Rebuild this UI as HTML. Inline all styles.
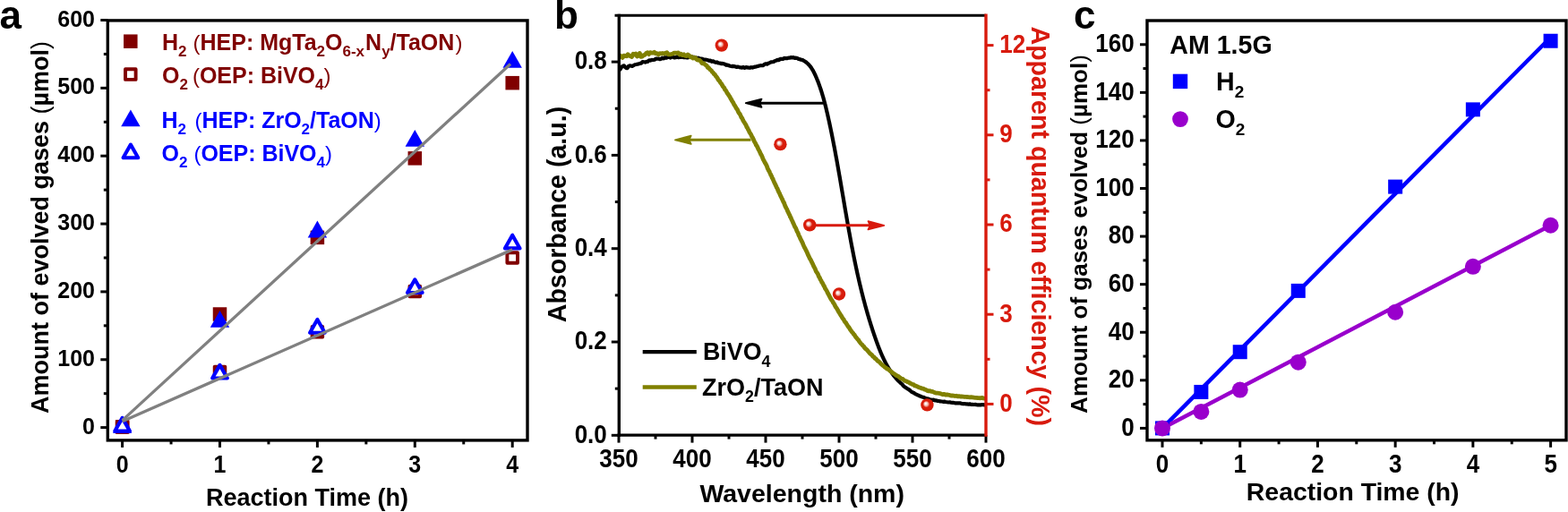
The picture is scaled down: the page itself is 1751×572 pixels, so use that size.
<!DOCTYPE html><html><head><meta charset="utf-8"><style>html,body{margin:0;padding:0;background:#fff;}svg{display:block;}text{font-family:'Liberation Sans', Arial, sans-serif;}</style></head><body>
<svg width="1751" height="572" viewBox="0 0 1751 572">
<defs><radialGradient id="ball" cx="0.5" cy="0.5" r="0.5" fx="0.37" fy="0.38"><stop offset="0" stop-color="#ffffff"/><stop offset="0.08" stop-color="#fffcfc"/><stop offset="0.3" stop-color="#f3b8b0"/><stop offset="0.52" stop-color="#da1e0c"/><stop offset="1" stop-color="#d41a08"/></radialGradient></defs>
<rect width="1751" height="572" fill="#fff"/>
<line x1="112.3" y1="477.6" x2="120.3" y2="477.6" stroke="#000" stroke-width="3" />
<text x="106" y="484.7" font-size="25" text-anchor="end" fill="#000" font-weight="bold" >0</text>
<line x1="112.3" y1="401.75" x2="120.3" y2="401.75" stroke="#000" stroke-width="3" />
<text x="106" y="408.85" font-size="25" text-anchor="end" fill="#000" font-weight="bold" >100</text>
<line x1="112.3" y1="325.9" x2="120.3" y2="325.9" stroke="#000" stroke-width="3" />
<text x="106" y="333" font-size="25" text-anchor="end" fill="#000" font-weight="bold" >200</text>
<line x1="112.3" y1="250.05" x2="120.3" y2="250.05" stroke="#000" stroke-width="3" />
<text x="106" y="257.15" font-size="25" text-anchor="end" fill="#000" font-weight="bold" >300</text>
<line x1="112.3" y1="174.2" x2="120.3" y2="174.2" stroke="#000" stroke-width="3" />
<text x="106" y="181.3" font-size="25" text-anchor="end" fill="#000" font-weight="bold" >400</text>
<line x1="112.3" y1="98.35" x2="120.3" y2="98.35" stroke="#000" stroke-width="3" />
<text x="106" y="105.45" font-size="25" text-anchor="end" fill="#000" font-weight="bold" >500</text>
<line x1="112.3" y1="22.5" x2="120.3" y2="22.5" stroke="#000" stroke-width="3" />
<text x="106" y="29.6" font-size="25" text-anchor="end" fill="#000" font-weight="bold" >600</text>
<line x1="115.8" y1="439.68" x2="120.3" y2="439.68" stroke="#000" stroke-width="3" />
<line x1="115.8" y1="363.83" x2="120.3" y2="363.83" stroke="#000" stroke-width="3" />
<line x1="115.8" y1="287.98" x2="120.3" y2="287.98" stroke="#000" stroke-width="3" />
<line x1="115.8" y1="212.13" x2="120.3" y2="212.13" stroke="#000" stroke-width="3" />
<line x1="115.8" y1="136.28" x2="120.3" y2="136.28" stroke="#000" stroke-width="3" />
<line x1="115.8" y1="60.43" x2="120.3" y2="60.43" stroke="#000" stroke-width="3" />
<line x1="136.6" y1="491.9" x2="136.6" y2="499.9" stroke="#000" stroke-width="3" />
<text transform="translate(136.6,527.9) scale(1,1.1)" x="0" y="0" font-size="25" text-anchor="middle" fill="#000" font-weight="bold">0</text>
<line x1="245.5" y1="491.9" x2="245.5" y2="499.9" stroke="#000" stroke-width="3" />
<text transform="translate(245.5,527.9) scale(1,1.1)" x="0" y="0" font-size="25" text-anchor="middle" fill="#000" font-weight="bold">1</text>
<line x1="354.4" y1="491.9" x2="354.4" y2="499.9" stroke="#000" stroke-width="3" />
<text transform="translate(354.4,527.9) scale(1,1.1)" x="0" y="0" font-size="25" text-anchor="middle" fill="#000" font-weight="bold">2</text>
<line x1="463.3" y1="491.9" x2="463.3" y2="499.9" stroke="#000" stroke-width="3" />
<text transform="translate(463.3,527.9) scale(1,1.1)" x="0" y="0" font-size="25" text-anchor="middle" fill="#000" font-weight="bold">3</text>
<line x1="572.2" y1="491.9" x2="572.2" y2="499.9" stroke="#000" stroke-width="3" />
<text transform="translate(572.2,527.9) scale(1,1.1)" x="0" y="0" font-size="25" text-anchor="middle" fill="#000" font-weight="bold">4</text>
<line x1="191.05" y1="491.9" x2="191.05" y2="496.4" stroke="#000" stroke-width="3" />
<line x1="299.95" y1="491.9" x2="299.95" y2="496.4" stroke="#000" stroke-width="3" />
<line x1="408.85" y1="491.9" x2="408.85" y2="496.4" stroke="#000" stroke-width="3" />
<line x1="517.75" y1="491.9" x2="517.75" y2="496.4" stroke="#000" stroke-width="3" />
<rect x="128.85" y="469.17" width="15.5" height="15.5" fill="#800000"/>
<rect x="237.75" y="343.26" width="15.5" height="15.5" fill="#800000"/>
<rect x="346.65" y="257.62" width="15.5" height="15.5" fill="#800000"/>
<rect x="455.55" y="169.1" width="15.5" height="15.5" fill="#800000"/>
<rect x="564.45" y="84.91" width="15.5" height="15.5" fill="#800000"/>
<rect x="130.8" y="471.12" width="11.6" height="11.6" fill="#fff" stroke="#800000" stroke-width="3.9" stroke-linejoin="round"/>
<rect x="239.7" y="409.6" width="11.6" height="11.6" fill="#fff" stroke="#800000" stroke-width="3.9" stroke-linejoin="round"/>
<rect x="348.6" y="364.93" width="11.6" height="11.6" fill="#fff" stroke="#800000" stroke-width="3.9" stroke-linejoin="round"/>
<rect x="457.5" y="319.64" width="11.6" height="11.6" fill="#fff" stroke="#800000" stroke-width="3.9" stroke-linejoin="round"/>
<rect x="566.4" y="282.18" width="11.6" height="11.6" fill="#fff" stroke="#800000" stroke-width="3.9" stroke-linejoin="round"/>
<polygon points="136.6,464.83 125.9,483.63 147.3,483.63" fill="#0000ff"/>
<polygon points="245.5,346.96 234.8,365.76 256.2,365.76" fill="#0000ff"/>
<polygon points="354.4,246.61 343.7,265.41 365.1,265.41" fill="#0000ff"/>
<polygon points="463.3,144.98 452.6,163.78 474,163.78" fill="#0000ff"/>
<polygon points="572.2,56.99 561.5,75.79 582.9,75.79" fill="#0000ff"/>
<polygon points="136.6,466.88 128.26,481.58 144.94,481.58" fill="#fff" stroke="#0000ff" stroke-width="4.1" stroke-linejoin="round"/>
<polygon points="245.5,407.87 237.16,422.57 253.84,422.57" fill="#fff" stroke="#0000ff" stroke-width="4.1" stroke-linejoin="round"/>
<polygon points="354.4,356.98 346.06,371.68 362.74,371.68" fill="#fff" stroke="#0000ff" stroke-width="4.1" stroke-linejoin="round"/>
<polygon points="463.3,312.3 454.96,327 471.64,327" fill="#fff" stroke="#0000ff" stroke-width="4.1" stroke-linejoin="round"/>
<polygon points="572.2,262.7 563.86,277.4 580.54,277.4" fill="#fff" stroke="#0000ff" stroke-width="4.1" stroke-linejoin="round"/>
<line x1="136.6" y1="469.64" x2="570.02" y2="71.42" stroke="#808080" stroke-width="3.3" />
<line x1="136.6" y1="470.77" x2="572.2" y2="278.87" stroke="#808080" stroke-width="3.3" />
<rect x="120.3" y="22.9" width="468.7" height="469" fill="none" stroke="#000" stroke-width="3.4"/>
<rect x="138.05" y="38.45" width="15.5" height="15.5" fill="#800000"/>
<rect x="140" y="77.3" width="11.6" height="11.6" fill="#fff" stroke="#800000" stroke-width="3.9" stroke-linejoin="round"/>
<polygon points="145.9,122.4 135.2,141.2 156.6,141.2" fill="#0000ff"/>
<polygon points="145.9,161.6 137.56,176.3 154.24,176.3" fill="#fff" stroke="#0000ff" stroke-width="4.1" stroke-linejoin="round"/>
<text x="181" y="55.7" font-size="25" font-weight="bold" fill="#800000"><tspan y="55.7">H</tspan><tspan y="62.7" font-size="17">2</tspan><tspan y="55.7"> </tspan><tspan y="55.7" font-size="24" font-weight="normal">(</tspan><tspan y="55.7">HEP: MgTa</tspan><tspan y="62.7" font-size="17">2</tspan><tspan y="55.7">O</tspan><tspan y="62.7" font-size="17">6-x</tspan><tspan y="55.7" dx="1">N</tspan><tspan y="62.7" font-size="17">y</tspan><tspan y="55.7">/TaON</tspan><tspan y="55.7" dx="1" font-size="24" font-weight="normal">)</tspan></text>
<text x="181" y="93" font-size="25" font-weight="bold" fill="#800000"><tspan y="93">O</tspan><tspan y="100" font-size="17">2</tspan><tspan y="93"> </tspan><tspan y="93" dx="-2" font-size="24" font-weight="normal">(</tspan><tspan y="93">OEP: BiVO</tspan><tspan y="100" font-size="17">4</tspan><tspan y="93" font-size="24" font-weight="normal">)</tspan></text>
<text x="180.5" y="142.9" font-size="25" font-weight="bold" fill="#0000ff"><tspan y="142.9">H</tspan><tspan y="149.9" font-size="17">2</tspan><tspan y="142.9"> </tspan><tspan y="142.9" dx="2.5" font-size="24" font-weight="normal">(</tspan><tspan y="142.9">HEP: ZrO</tspan><tspan y="149.9" font-size="17">2</tspan><tspan y="142.9">/TaON</tspan><tspan y="142.9" font-size="24" font-weight="normal">)</tspan></text>
<text x="180.5" y="180.2" font-size="25" font-weight="bold" fill="#0000ff"><tspan y="180.2">O</tspan><tspan y="187.2" font-size="17">2</tspan><tspan y="180.2"> </tspan><tspan y="180.2" dx="0" font-size="24" font-weight="normal">(</tspan><tspan y="180.2">OEP: BiVO</tspan><tspan y="187.2" font-size="17">4</tspan><tspan y="180.2" font-size="24" font-weight="normal">)</tspan></text>
<text x="343" y="565.4" font-size="27" text-anchor="middle" fill="#000" font-weight="bold" >Reaction Time (h)</text>
<text transform="translate(54.3,254) rotate(-90)" x="0" y="0" font-size="27" font-weight="bold" text-anchor="middle" fill="#000">Amount of evolved gases <tspan font-weight="normal">(</tspan>µmol<tspan font-weight="normal">)</tspan></text>
<text x="-0.5" y="31.8" font-size="44" text-anchor="start" fill="#000" font-weight="bold" >a</text>
<line x1="682.8" y1="486.3" x2="691.3" y2="486.3" stroke="#000" stroke-width="3" />
<text transform="translate(677.8,494.55) scale(1,1.1)" x="0" y="0" font-size="26" text-anchor="end" fill="#000" font-weight="bold">0.0</text>
<line x1="682.8" y1="382" x2="691.3" y2="382" stroke="#000" stroke-width="3" />
<text transform="translate(677.8,390.25) scale(1,1.1)" x="0" y="0" font-size="26" text-anchor="end" fill="#000" font-weight="bold">0.2</text>
<line x1="682.8" y1="277.7" x2="691.3" y2="277.7" stroke="#000" stroke-width="3" />
<text transform="translate(677.8,285.95) scale(1,1.1)" x="0" y="0" font-size="26" text-anchor="end" fill="#000" font-weight="bold">0.4</text>
<line x1="682.8" y1="173.4" x2="691.3" y2="173.4" stroke="#000" stroke-width="3" />
<text transform="translate(677.8,181.65) scale(1,1.1)" x="0" y="0" font-size="26" text-anchor="end" fill="#000" font-weight="bold">0.6</text>
<line x1="682.8" y1="69.1" x2="691.3" y2="69.1" stroke="#000" stroke-width="3" />
<text transform="translate(677.8,77.35) scale(1,1.1)" x="0" y="0" font-size="26" text-anchor="end" fill="#000" font-weight="bold">0.8</text>
<line x1="686.8" y1="434.15" x2="691.3" y2="434.15" stroke="#000" stroke-width="3" />
<line x1="686.8" y1="329.85" x2="691.3" y2="329.85" stroke="#000" stroke-width="3" />
<line x1="686.8" y1="225.55" x2="691.3" y2="225.55" stroke="#000" stroke-width="3" />
<line x1="686.8" y1="121.25" x2="691.3" y2="121.25" stroke="#000" stroke-width="3" />
<line x1="691" y1="486.1" x2="691" y2="494.6" stroke="#000" stroke-width="3" />
<text transform="translate(691,521.9) scale(1,1.1)" x="0" y="0" font-size="26" text-anchor="middle" fill="#000" font-weight="bold">350</text>
<line x1="773" y1="486.1" x2="773" y2="494.6" stroke="#000" stroke-width="3" />
<text transform="translate(773,521.9) scale(1,1.1)" x="0" y="0" font-size="26" text-anchor="middle" fill="#000" font-weight="bold">400</text>
<line x1="855" y1="486.1" x2="855" y2="494.6" stroke="#000" stroke-width="3" />
<text transform="translate(855,521.9) scale(1,1.1)" x="0" y="0" font-size="26" text-anchor="middle" fill="#000" font-weight="bold">450</text>
<line x1="937" y1="486.1" x2="937" y2="494.6" stroke="#000" stroke-width="3" />
<text transform="translate(937,521.9) scale(1,1.1)" x="0" y="0" font-size="26" text-anchor="middle" fill="#000" font-weight="bold">500</text>
<line x1="1019" y1="486.1" x2="1019" y2="494.6" stroke="#000" stroke-width="3" />
<text transform="translate(1019,521.9) scale(1,1.1)" x="0" y="0" font-size="26" text-anchor="middle" fill="#000" font-weight="bold">550</text>
<line x1="1101" y1="486.1" x2="1101" y2="494.6" stroke="#000" stroke-width="3" />
<text transform="translate(1101,521.9) scale(1,1.1)" x="0" y="0" font-size="26" text-anchor="middle" fill="#000" font-weight="bold">600</text>
<line x1="732" y1="486.1" x2="732" y2="490.6" stroke="#000" stroke-width="3" />
<line x1="814" y1="486.1" x2="814" y2="490.6" stroke="#000" stroke-width="3" />
<line x1="896" y1="486.1" x2="896" y2="490.6" stroke="#000" stroke-width="3" />
<line x1="978" y1="486.1" x2="978" y2="490.6" stroke="#000" stroke-width="3" />
<line x1="1060" y1="486.1" x2="1060" y2="490.6" stroke="#000" stroke-width="3" />
<line x1="1101" y1="451.4" x2="1109.5" y2="451.4" stroke="#d81a0d" stroke-width="3" />
<text transform="translate(1116.3,459.85) scale(1,1.1)" x="0" y="0" font-size="26" text-anchor="start" fill="#d81a0d" font-weight="bold">0</text>
<line x1="1101" y1="351.2" x2="1109.5" y2="351.2" stroke="#d81a0d" stroke-width="3" />
<text transform="translate(1116.3,359.65) scale(1,1.1)" x="0" y="0" font-size="26" text-anchor="start" fill="#d81a0d" font-weight="bold">3</text>
<line x1="1101" y1="251" x2="1109.5" y2="251" stroke="#d81a0d" stroke-width="3" />
<text transform="translate(1116.3,259.45) scale(1,1.1)" x="0" y="0" font-size="26" text-anchor="start" fill="#d81a0d" font-weight="bold">6</text>
<line x1="1101" y1="150.8" x2="1109.5" y2="150.8" stroke="#d81a0d" stroke-width="3" />
<text transform="translate(1116.3,159.25) scale(1,1.1)" x="0" y="0" font-size="26" text-anchor="start" fill="#d81a0d" font-weight="bold">9</text>
<line x1="1101" y1="50.6" x2="1109.5" y2="50.6" stroke="#d81a0d" stroke-width="3" />
<text transform="translate(1116.3,59.05) scale(1,1.1)" x="0" y="0" font-size="26" text-anchor="start" fill="#d81a0d" font-weight="bold">12</text>
<line x1="1101" y1="401.3" x2="1105.5" y2="401.3" stroke="#d81a0d" stroke-width="3" />
<line x1="1101" y1="301.1" x2="1105.5" y2="301.1" stroke="#d81a0d" stroke-width="3" />
<line x1="1101" y1="200.9" x2="1105.5" y2="200.9" stroke="#d81a0d" stroke-width="3" />
<line x1="1101" y1="100.7" x2="1105.5" y2="100.7" stroke="#d81a0d" stroke-width="3" />
<clipPath id="cb"><rect x="691.3" y="17.3" width="409.70000000000005" height="468.8"/></clipPath>
<g clip-path="url(#cb)" fill="none" stroke-linejoin="round" stroke-linecap="round">
<path d="M692.5,77.5 C692.83,77 693.78,75.2 694.5,74.5 C695.22,73.8 696.13,73.13 696.8,73.3 C697.47,73.47 697.92,75.02 698.5,75.5 C699.08,75.98 699.72,76.45 700.3,76.2 C700.88,75.95 701.42,74.47 702,74 C702.58,73.53 703.13,73.4 703.8,73.4 C704.47,73.4 705.63,73.9 706,74 L708.94,72.27 L710.38,72.01 L711.82,71.67 L713.26,71.47 L714.71,70.79 L716.16,70.65 L717.62,69.02 L719.07,69.26 L720.53,69.56 L722,68.79 L723.46,68.8 L724.93,67.36 L726.4,67.53 L727.87,66.9 L729.35,67.01 L730.83,66.76 L732.3,65.69 L733.78,65.71 L735.27,65.53 L736.75,66.18 L738.24,65.73 L739.72,64.66 L741.21,65.35 L742.7,64.23 L744.19,64.72 L745.69,63.87 L747.18,63.54 L748.67,64.62 L750.17,63.57 L751.66,63.47 L753.16,64.45 L754.65,64.22 L756.15,63.35 L757.64,64.24 L759.14,63.63 L760.64,63.81 L762.13,63.16 L763.63,64.21 L765.13,63.91 L766.62,64.36 L768.12,64.34 L769.61,63.6 L771.1,63.81 L772.59,63.68 L774.09,63.81 L775.58,63.88 L777.06,64.41 L778.55,65.05 L780.04,64.7 L781.52,65.57 L783.01,65.54 L784.49,65.81 L785.97,66.57 L787.45,66.59 L788.93,66.78 L790.41,67.27 L791.89,67.82 L793.36,67.6 L794.84,68.8 L796.31,68.31 L797.79,69.34 L799.26,69.8 L800.73,69.44 L802.2,70.51 L803.67,70.5 L805.14,71.07 L806.61,70.92 L808.08,71.31 L809.55,71.79 L811.02,72.83 L812.49,72.48 L813.95,73.3 L815.42,73.76 L816.89,74.07 L818.36,73.81 L819.82,74.07 L821.29,74.46 L822.76,74.91 L824.22,74.5 L825.69,75.25 L827.16,75.45 L828.62,75.63 L830.09,74.98 L831.56,75.86 L833.02,75.13 L834.49,75.36 L835.96,75.57 L837.43,75.78 L838.9,75.16 L840.37,75.55 L841.84,75.03 L843.31,74.61 L844.78,74.35 L846.25,73.93 L847.72,73.5 L849.2,73.18 L850.67,73.26 L852.14,73.1 L853.62,71.89 L855.09,71.3 L856.57,71.65 L858.04,70.74 L859.52,70.11 L860.99,69.44 L862.47,69.24 L863.95,68.94 L865.42,68.11 L866.9,67.59 L868.37,66.79 L869.85,67.12 L871.32,65.91 L872.8,65.93 L874.27,65.89 L875.74,64.94 L877.22,65.21 L878.69,65.18 L880.16,64.72 L881.63,64.74 L883.1,64.07 L884.57,64.37 L886.03,64.19 L887.49,64.95 L888.92,64.66 L890.35,65.07 L891.74,65.9 L893.12,66.17 L894.46,66.76 L895.77,66.88 L897.04,67.5 L898.26,68.2 L899.44,68.97 L900.57,69.81 L901.65,70.73 L902.67,71.72 L903.65,72.77 L904.57,73.89 L905.46,75.06 L906.3,76.28 L907.1,77.55 L907.87,78.86 L908.6,80.2 L909.31,81.57 L909.98,82.97 L910.63,84.38 L911.26,85.81 L911.87,87.24 L912.46,88.69 L913.03,90.13 L913.6,91.57 L914.14,93.01 L914.67,94.45 L915.19,95.9 L915.7,97.34 L916.19,98.79 L916.67,100.23 L917.14,101.68 L917.6,103.12 L918.05,104.57 L918.49,106.02 L918.91,107.47 L919.33,108.92 L919.74,110.37 L920.14,111.82 L920.53,113.27 L920.91,114.72 L921.29,116.17 L921.66,117.62 L922.02,119.08 L922.38,120.53 L922.73,121.98 L923.08,123.44 L923.42,124.9 L923.76,126.35 L924.09,127.81 L924.42,129.27 L924.75,130.73 L925.08,132.19 L925.4,133.65 L925.72,135.11 L926.04,136.57 L926.35,138.03 L926.67,139.5 L926.98,140.96 L927.29,142.43 L927.59,143.89 L927.9,145.36 L928.2,146.82 L928.5,148.29 L928.8,149.76 L929.09,151.23 L929.39,152.7 L929.68,154.17 L929.97,155.64 L930.26,157.11 L930.55,158.58 L930.84,160.05 L931.12,161.52 L931.4,162.99 L931.68,164.47 L931.96,165.94 L932.24,167.41 L932.52,168.89 L932.79,170.36 L933.06,171.84 L933.34,173.31 L933.61,174.79 L933.88,176.27 L934.15,177.74 L934.41,179.22 L934.68,180.7 L934.95,182.18 L935.21,183.66 L935.47,185.14 L935.74,186.61 L936,188.09 L936.26,189.57 L936.52,191.05 L936.78,192.53 L937.03,194.01 L937.29,195.49 L937.55,196.98 L937.8,198.46 L938.06,199.94 L938.31,201.42 L938.57,202.9 L938.82,204.38 L939.08,205.87 L939.33,207.35 L939.58,208.83 L939.84,210.31 L940.09,211.8 L940.34,213.28 L940.59,214.76 L940.85,216.25 L941.1,217.73 L941.35,219.21 L941.6,220.69 L941.85,222.18 L942.11,223.66 L942.36,225.14 L942.61,226.63 L942.86,228.11 L943.12,229.59 L943.37,231.08 L943.62,232.56 L943.88,234.04 L944.13,235.53 L944.39,237.01 L944.64,238.49 L944.9,239.98 L945.15,241.46 L945.41,242.94 L945.67,244.43 L945.93,245.91 L946.19,247.39 L946.45,248.87 L946.71,250.35 L946.97,251.84 L947.23,253.32 L947.5,254.8 L947.76,256.28 L948.03,257.76 L948.29,259.24 L948.56,260.72 L948.83,262.2 L949.1,263.68 L949.37,265.16 L949.64,266.64 L949.92,268.12 L950.19,269.6 L950.47,271.08 L950.75,272.56 L951.03,274.03 L951.31,275.51 L951.59,276.99 L951.88,278.47 L952.17,279.94 L952.45,281.42 L952.74,282.89 L953.04,284.37 L953.33,285.84 L953.63,287.32 L953.92,288.79 L954.22,290.26 L954.52,291.74 L954.83,293.21 L955.13,294.68 L955.44,296.15 L955.75,297.62 L956.06,299.09 L956.38,300.56 L956.69,302.03 L957.01,303.5 L957.33,304.97 L957.66,306.43 L957.98,307.9 L958.31,309.36 L958.64,310.83 L958.98,312.29 L959.31,313.76 L959.65,315.22 L959.99,316.68 L960.34,318.15 L960.69,319.61 L961.04,321.07 L961.39,322.53 L961.75,323.99 L962.11,325.44 L962.47,326.9 L962.83,328.36 L963.2,329.82 L963.57,331.27 L963.95,332.72 L964.32,334.18 L964.71,335.63 L965.09,337.08 L965.48,338.53 L965.87,339.98 L966.26,341.43 L966.66,342.88 L967.06,344.33 L967.47,345.78 L967.88,347.22 L968.29,348.67 L968.7,350.11 L969.12,351.55 L969.55,352.99 L969.97,354.44 L970.4,355.88 L970.84,357.31 L971.28,358.75 L971.72,360.19 L972.17,361.62 L972.62,363.06 L973.07,364.49 L973.53,365.93 L974,367.36 L974.46,368.79 L974.93,370.22 L975.41,371.65 L975.89,373.07 L976.38,374.5 L976.86,375.92 L977.36,377.35 L977.86,378.77 L978.36,380.19 L978.87,381.61 L979.38,383.03 L979.9,384.45 L980.42,385.86 L980.96,387.27 L981.5,388.67 L982.05,390.08 L982.6,391.47 L983.17,392.87 L983.75,394.25 L984.34,395.63 L984.94,397.01 L985.56,398.38 L986.18,399.74 L986.82,401.09 L987.48,402.43 L988.15,403.77 L988.83,405.09 L989.54,406.41 L990.25,407.71 L990.99,409.01 L991.74,410.29 L992.52,411.56 L993.31,412.82 L994.12,414.07 L994.95,415.3 L995.81,416.52 L996.68,417.73 L997.58,418.92 L998.5,420.1 L999.45,421.26 L1000.42,422.37 L1001.41,423.52 L1002.43,424.8 L1003.47,425.72 L1004.54,426.67 L1005.62,427.8 L1006.73,428.66 L1007.86,429.83 L1009.01,431.26 L1010.18,432.21 L1011.37,432.93 L1012.58,433.76 L1013.8,434.55 L1015.05,435.26 L1016.31,436.24 L1017.58,437.42 L1018.87,438.28 L1020.18,438.7 L1021.5,439.74 L1022.84,440.45 L1024.18,441.08 L1025.54,441.71 L1026.92,442.4 L1028.3,442.72 L1029.69,443.52 L1031.1,443.75 L1032.51,444.39 L1033.93,445.05 L1035.37,445.43 L1036.8,445.55 L1038.25,446.38 L1039.7,446.52 L1041.16,446.79 L1042.63,446.69 L1044.1,447.34 L1045.58,447.38 L1047.06,447.92 L1048.55,447.99 L1050.04,448.44 L1051.53,448.52 L1053.02,448.8 L1054.52,448.66 L1056.02,449.03 L1057.52,449.25 L1059.02,449.47 L1060.52,449.28 L1062.03,449.77 L1063.53,449.94 L1065.03,449.96 L1066.53,450.32 L1068.02,450.45 L1069.52,450.3 L1071.02,450.46 L1072.51,450.35 L1074.01,450.97 L1075.51,451.19 L1077,451.01 L1078.5,451.29 L1079.99,451.45 L1081.49,451.59 L1082.98,451.32 L1084.48,451.87 L1085.98,451.84 L1087.47,452 L1088.97,451.93 L1090.47,452.16 L1091.97,452.35 L1093.47,452.32 L1094.97,452.44 L1096.48,452 L1097.98,452.14 L1099.49,452.36 L1100.99,452.52" stroke="#000" stroke-width="4.2"/>
<path d="M692.16,62.03 L693.68,62.63 L695.2,64.5 L696.7,62.18 L698.2,62.38 L699.69,62.75 L701.17,60.76 L702.64,62.29 L704.11,62.78 L705.58,63.46 L707.04,60.13 L708.5,61 L709.95,59.95 L711.41,63.06 L712.86,62.41 L714.32,59.45 L715.77,63.37 L717.23,63.13 L718.7,61.68 L720.16,61.37 L721.63,59.38 L723.11,58.69 L724.59,60.6 L726.08,58.65 L727.58,59.05 L729.09,59.14 L730.61,58.26 L732.14,59.76 L733.68,59.57 L735.23,60.9 L736.8,59.68 L738.37,60.02 L739.96,59.49 L741.55,59.98 L743.15,59.29 L744.75,58.72 L746.35,60.96 L747.96,60.95 L749.56,60.51 L751.16,60.17 L752.76,59.14 L754.35,59.03 L755.93,59.35 L757.51,58.95 L759.07,60.98 L760.62,60.26 L762.15,61.63 L763.67,60.78 L765.18,62.46 L766.66,62.53 L768.12,61.01 L769.56,61.92 L770.97,63.89 L772.36,63.46 L773.72,65.04 L775.06,64.44 L776.37,64.44 L777.66,66.15 L778.93,67.11 L780.17,66.91 L781.39,67.36 L782.59,68.58 L783.76,70.43 L784.92,70.93 L786.06,70.8 L787.17,71.91 L788.27,72.64 L789.35,73.56 L790.41,75.57 L791.46,75.73 L792.48,77.27 L793.5,78.17 L794.49,78.93 L795.47,80.67 L796.44,81.09 L797.39,82.8 L798.33,83.38 L799.26,84.87 L800.18,85.9 L801.08,87.14 L801.97,88.9 L802.86,89.99 L803.73,90.82 L804.59,92.53 L805.45,93.24 L806.29,94.65 L807.13,96.28 L807.96,97.39 L808.79,98.24 L809.61,100.23 L810.42,100.9 L811.23,102.23 L812.04,103.94 L812.84,104.88 L813.64,106.16 L814.43,107.28 L815.22,108.59 L816.01,110.29 L816.8,111.32 L817.58,112.91 L818.36,114.03 L819.13,115.41 L819.9,117.12 L820.67,118.05 L821.43,119.43 L822.19,120.98 L822.95,121.74 L823.71,123.04 L824.46,124.95 L825.21,126.2 L825.96,127.06 L826.7,128.33 L827.44,130.09 L828.18,131.57 L828.91,132.3 L829.64,134.23 L830.37,135.49 L831.1,136.6 L831.82,137.78 L832.55,138.85 L833.26,140.12 L833.98,142.19 L834.69,142.94 L835.41,144.65 L836.11,145.62 L836.82,147.41 L837.52,148.56 L838.23,149.65 L838.93,150.89 L839.62,152.66 L840.32,153.48 L841.01,154.94 L841.7,156.55 L842.39,158.12 L843.07,159.27 L843.76,160.34 L844.44,162.19 L845.12,162.96 L845.8,164.16 L846.48,165.7 L847.15,167.19 L847.82,168.23 L848.49,169.67 L849.16,171.17 L849.83,172.68 L850.5,173.67 L851.16,175.21 L851.82,176.98 L852.48,178.4 L853.14,179.49 L853.8,180.87 L854.46,182.14 L855.11,183.13 L855.77,184.4 L856.42,185.74 L857.07,187.81 L857.72,189 L858.37,190.56 L859.02,191.16 L859.66,193.01 L860.31,194.25 L860.95,195.8 L861.59,196.83 L862.24,198.73 L862.88,199.35 L863.52,201.09 L864.16,202.6 L864.8,204.09 L865.43,205.32 L866.07,206.65 L866.71,208.08 L867.34,209.54 L867.98,210.45 L868.61,212.08 L869.24,213.62 L869.88,214.96 L870.51,215.96 L871.14,217.62 L871.77,219.04 L872.4,220.17 L873.03,221.58 L873.66,222.75 L874.29,224.27 L874.92,225.66 L875.55,226.6 L876.18,228.41 L876.81,230.06 L877.44,231.33 L878.07,232.58 L878.7,233.67 L879.33,235.31 L879.96,236.56 L880.59,237.81 L881.22,239.49 L881.85,240.26 L882.47,242.16 L883.1,242.95 L883.73,244.77 L884.37,246.04 L885,247.21 L885.63,248.95 L886.26,250.15 L886.89,251.61 L887.52,253.22 L888.16,254.06 L888.79,255.23 L889.42,256.83 L890.06,258.49 L890.69,259.48 L891.33,260.82 L891.97,262.77 L892.6,263.94 L893.24,265.13 L893.88,266.86 L894.52,267.77 L895.16,269.41 L895.8,270.4 L896.45,271.95 L897.09,273.61 L897.74,275.06 L898.38,276.4 L899.03,277.37 L899.68,278.89 L900.33,280.04 L900.98,281.26 L901.63,282.91 L902.29,284.54 L902.94,285.91 L903.6,287.16 L904.26,288.71 L904.92,289.53 L905.58,290.8 L906.25,292.38 L906.91,293.6 L907.58,294.9 L908.25,296.42 L908.92,297.94 L909.6,299.19 L910.27,300.4 L910.95,302.17 L911.63,303.63 L912.31,304.55 L913,305.6 L913.69,306.91 L914.37,308.92 L915.07,309.6 L915.76,311.47 L916.46,312.7 L917.16,313.83 L917.86,315.55 L918.57,316.27 L919.27,317.7 L919.98,319.28 L920.7,320.27 L921.42,322.24 L922.13,323.09 L922.86,324.34 L923.58,325.59 L924.31,327.38 L925.04,328.55 L925.78,330.01 L926.52,331.35 L927.26,332.78 L928.01,334.21 L928.75,335.3 L929.51,336.22 L930.26,337.74 L931.02,338.8 L931.79,339.97 L932.55,341.63 L933.32,343.12 L934.1,343.99 L934.88,345.35 L935.66,346.69 L936.45,348.26 L937.24,349.4 L938.03,350.75 L938.83,352.14 L939.64,353.12 L940.44,354.71 L941.26,356.06 L942.07,356.67 L942.9,358.6 L943.73,359.69 L944.56,360.47 L945.4,361.97 L946.24,363.35 L947.09,364.82 L947.95,365.62 L948.81,367 L949.67,368.48 L950.55,369.63 L951.43,370.96 L952.31,371.78 L953.2,373.14 L954.1,373.98 L955.01,375.59 L955.92,376.85 L956.84,377.89 L957.76,379.13 L958.7,379.89 L959.64,381.61 L960.59,382.83 L961.54,383.98 L962.5,384.77 L963.47,386.11 L964.45,386.86 L965.44,388.46 L966.43,389.53 L967.43,390.24 L968.44,391.13 L969.46,392.51 L970.49,393.69 L971.53,394.94 L972.57,395.79 L973.63,396.49 L974.69,398.17 L975.76,398.62 L976.84,400.25 L977.93,400.78 L979.03,401.93 L980.14,403.31 L981.26,403.8 L982.39,404.8 L983.53,406.09 L984.68,407.23 L985.83,408.29 L987,409.13 L988.17,410.29 L989.36,410.86 L990.55,412.16 L991.75,412.39 L992.96,413.4 L994.18,414.54 L995.41,415.24 L996.64,416.47 L997.88,417.26 L999.13,418.02 L1000.39,419.12 L1001.66,419.72 L1002.93,420.34 L1004.21,421.2 L1005.5,422.36 L1006.8,423.19 L1008.1,423.4 L1009.41,424.67 L1010.73,425.5 L1012.06,425.88 L1013.39,426.63 L1014.73,427.03 L1016.07,427.99 L1017.42,428.64 L1018.78,429.38 L1020.14,429.56 L1021.51,430.94 L1022.89,431.2 L1024.27,431.7 L1025.66,432.61 L1027.05,432.99 L1028.45,433.49 L1029.86,434.19 L1031.27,434.21 L1032.68,435.09 L1034.1,435.49 L1035.53,436.4 L1036.96,436.83 L1038.39,436.75 L1039.83,437.33 L1041.28,437.46 L1042.72,438.1 L1044.18,438.78 L1045.64,439.2 L1047.1,439.21 L1048.56,439.4 L1050.03,439.61 L1051.5,440.25 L1052.98,440.77 L1054.46,440.4 L1055.94,441.18 L1057.43,440.81 L1058.92,441.18 L1060.41,441.42 L1061.9,441.99 L1063.39,441.9 L1064.89,442.11 L1066.39,442.49 L1067.89,442.25 L1069.39,442.91 L1070.9,442.57 L1072.4,443.02 L1073.91,442.94 L1075.41,443.03 L1076.92,443.41 L1078.43,443.45 L1079.94,443.51 L1081.44,443.65 L1082.95,443.84 L1084.46,443.64 L1085.97,443.77 L1087.48,444.2 L1088.98,444.29 L1090.49,444.29 L1092,444.63 L1093.5,444.53 L1095,444.8 L1096.5,444.39 L1098,444.88 L1099.5,445.02 L1101,445.18" stroke="#808000" stroke-width="4.8"/>
</g>
<line x1="919.5" y1="115.2" x2="848.3" y2="115.2" stroke="#000" stroke-width="3" />
<polygon points="832.8,115.2 850.5,110.6 848.3,115.2 850.5,119.8" fill="#000" stroke="#000" stroke-width="1.8" stroke-linejoin="round"/>
<line x1="838.5" y1="156.3" x2="769.5" y2="156.3" stroke="#808000" stroke-width="3" />
<polygon points="754,156.3 771.7,151.7 769.5,156.3 771.7,160.9" fill="#808000" stroke="#808000" stroke-width="1.8" stroke-linejoin="round"/>
<line x1="904.3" y1="251.8" x2="971.7" y2="251.8" stroke="#d81a0d" stroke-width="3" />
<polygon points="987.2,251.8 969.5,247.2 971.7,251.8 969.5,256.4" fill="#d81a0d" stroke="#d81a0d" stroke-width="1.8" stroke-linejoin="round"/>
<circle cx="805.8" cy="50.6" r="7.2" fill="url(#ball)"/>
<circle cx="871.4" cy="161.15" r="7.2" fill="url(#ball)"/>
<circle cx="904.2" cy="251.33" r="7.2" fill="url(#ball)"/>
<circle cx="937" cy="328.49" r="7.2" fill="url(#ball)"/>
<circle cx="1035.4" cy="452.4" r="7.2" fill="url(#ball)"/>
<line x1="686.5" y1="17.3" x2="1101" y2="17.3" stroke="#000" stroke-width="3.1" />
<line x1="691.3" y1="15.8" x2="691.3" y2="487.8" stroke="#000" stroke-width="3.4" />
<line x1="689.6" y1="486.1" x2="1101" y2="486.1" stroke="#000" stroke-width="3.4" />
<line x1="1101" y1="17.3" x2="1101" y2="486.1" stroke="#d81a0d" stroke-width="3.4" stroke-linecap="square"/>
<line x1="717.7" y1="393.1" x2="777.8" y2="393.1" stroke="#000" stroke-width="4.4" />
<line x1="717.7" y1="432.5" x2="777.8" y2="432.5" stroke="#808000" stroke-width="4.4" />
<text x="785" y="402.4" font-size="26.8" font-weight="bold" fill="#000">BiVO<tspan font-size="17.8" dy="7.3">4</tspan></text>
<text x="784" y="442" font-size="27" font-weight="bold" fill="#000">ZrO<tspan font-size="17.8" dy="7.3">2</tspan><tspan dy="-7.3">/TaON</tspan></text>
<text x="895.7" y="561.4" font-size="28.5" text-anchor="middle" fill="#000" font-weight="bold" >Wavelength (nm)</text>
<text transform="translate(632.3,239.5) rotate(-90)" x="0" y="0" font-size="28.6" font-weight="bold" text-anchor="middle" fill="#000">Absorbance (a.u.)</text>
<text transform="translate(1152.4,252.7) rotate(90)" x="0" y="0" font-size="28.6" font-weight="bold" text-anchor="middle" fill="#d81a0d">Apparent quantum efficiency (%)</text>
<text x="619" y="31.5" font-size="44" text-anchor="start" fill="#000" font-weight="bold" >b</text>
<line x1="1273" y1="478.4" x2="1281" y2="478.4" stroke="#000" stroke-width="3" />
<text transform="translate(1266.6,486.7) scale(1,1.1)" x="0" y="0" font-size="26" text-anchor="end" fill="#000" font-weight="bold">0</text>
<line x1="1273" y1="424.82" x2="1281" y2="424.82" stroke="#000" stroke-width="3" />
<text transform="translate(1266.6,433.12) scale(1,1.1)" x="0" y="0" font-size="26" text-anchor="end" fill="#000" font-weight="bold">20</text>
<line x1="1273" y1="371.24" x2="1281" y2="371.24" stroke="#000" stroke-width="3" />
<text transform="translate(1266.6,379.54) scale(1,1.1)" x="0" y="0" font-size="26" text-anchor="end" fill="#000" font-weight="bold">40</text>
<line x1="1273" y1="317.66" x2="1281" y2="317.66" stroke="#000" stroke-width="3" />
<text transform="translate(1266.6,325.96) scale(1,1.1)" x="0" y="0" font-size="26" text-anchor="end" fill="#000" font-weight="bold">60</text>
<line x1="1273" y1="264.08" x2="1281" y2="264.08" stroke="#000" stroke-width="3" />
<text transform="translate(1266.6,272.38) scale(1,1.1)" x="0" y="0" font-size="26" text-anchor="end" fill="#000" font-weight="bold">80</text>
<line x1="1273" y1="210.5" x2="1281" y2="210.5" stroke="#000" stroke-width="3" />
<text transform="translate(1266.6,218.8) scale(1,1.1)" x="0" y="0" font-size="26" text-anchor="end" fill="#000" font-weight="bold">100</text>
<line x1="1273" y1="156.92" x2="1281" y2="156.92" stroke="#000" stroke-width="3" />
<text transform="translate(1266.6,165.22) scale(1,1.1)" x="0" y="0" font-size="26" text-anchor="end" fill="#000" font-weight="bold">120</text>
<line x1="1273" y1="103.34" x2="1281" y2="103.34" stroke="#000" stroke-width="3" />
<text transform="translate(1266.6,111.64) scale(1,1.1)" x="0" y="0" font-size="26" text-anchor="end" fill="#000" font-weight="bold">140</text>
<line x1="1273" y1="49.76" x2="1281" y2="49.76" stroke="#000" stroke-width="3" />
<text transform="translate(1266.6,58.06) scale(1,1.1)" x="0" y="0" font-size="26" text-anchor="end" fill="#000" font-weight="bold">160</text>
<line x1="1276.5" y1="451.61" x2="1281" y2="451.61" stroke="#000" stroke-width="3" />
<line x1="1276.5" y1="398.03" x2="1281" y2="398.03" stroke="#000" stroke-width="3" />
<line x1="1276.5" y1="344.45" x2="1281" y2="344.45" stroke="#000" stroke-width="3" />
<line x1="1276.5" y1="290.87" x2="1281" y2="290.87" stroke="#000" stroke-width="3" />
<line x1="1276.5" y1="237.29" x2="1281" y2="237.29" stroke="#000" stroke-width="3" />
<line x1="1276.5" y1="183.71" x2="1281" y2="183.71" stroke="#000" stroke-width="3" />
<line x1="1276.5" y1="130.13" x2="1281" y2="130.13" stroke="#000" stroke-width="3" />
<line x1="1276.5" y1="76.55" x2="1281" y2="76.55" stroke="#000" stroke-width="3" />
<line x1="1298" y1="491.8" x2="1298" y2="499.8" stroke="#000" stroke-width="3" />
<text transform="translate(1298,527.75) scale(1,1.1)" x="0" y="0" font-size="26" text-anchor="middle" fill="#000" font-weight="bold">0</text>
<line x1="1384.72" y1="491.8" x2="1384.72" y2="499.8" stroke="#000" stroke-width="3" />
<text transform="translate(1384.72,527.75) scale(1,1.1)" x="0" y="0" font-size="26" text-anchor="middle" fill="#000" font-weight="bold">1</text>
<line x1="1471.44" y1="491.8" x2="1471.44" y2="499.8" stroke="#000" stroke-width="3" />
<text transform="translate(1471.44,527.75) scale(1,1.1)" x="0" y="0" font-size="26" text-anchor="middle" fill="#000" font-weight="bold">2</text>
<line x1="1558.16" y1="491.8" x2="1558.16" y2="499.8" stroke="#000" stroke-width="3" />
<text transform="translate(1558.16,527.75) scale(1,1.1)" x="0" y="0" font-size="26" text-anchor="middle" fill="#000" font-weight="bold">3</text>
<line x1="1644.88" y1="491.8" x2="1644.88" y2="499.8" stroke="#000" stroke-width="3" />
<text transform="translate(1644.88,527.75) scale(1,1.1)" x="0" y="0" font-size="26" text-anchor="middle" fill="#000" font-weight="bold">4</text>
<line x1="1731.6" y1="491.8" x2="1731.6" y2="499.8" stroke="#000" stroke-width="3" />
<text transform="translate(1731.6,527.75) scale(1,1.1)" x="0" y="0" font-size="26" text-anchor="middle" fill="#000" font-weight="bold">5</text>
<line x1="1341.36" y1="491.8" x2="1341.36" y2="496.3" stroke="#000" stroke-width="3" />
<line x1="1428.08" y1="491.8" x2="1428.08" y2="496.3" stroke="#000" stroke-width="3" />
<line x1="1514.8" y1="491.8" x2="1514.8" y2="496.3" stroke="#000" stroke-width="3" />
<line x1="1601.52" y1="491.8" x2="1601.52" y2="496.3" stroke="#000" stroke-width="3" />
<line x1="1688.24" y1="491.8" x2="1688.24" y2="496.3" stroke="#000" stroke-width="3" />
<line x1="1298" y1="478.4" x2="1731.6" y2="41.72" stroke="#0000ff" stroke-width="4.5" />
<line x1="1298" y1="478.4" x2="1731.6" y2="251.76" stroke="#9900cc" stroke-width="4.5" />
<rect x="1290" y="470.4" width="16" height="16" fill="#0000ff"/>
<rect x="1333.36" y="429.95" width="16" height="16" fill="#0000ff"/>
<rect x="1376.72" y="385.21" width="16" height="16" fill="#0000ff"/>
<rect x="1441.76" y="316.89" width="16" height="16" fill="#0000ff"/>
<rect x="1550.16" y="200.62" width="16" height="16" fill="#0000ff"/>
<rect x="1636.88" y="114.36" width="16" height="16" fill="#0000ff"/>
<rect x="1723.6" y="37.74" width="16" height="16" fill="#0000ff"/>
<circle cx="1298" cy="478.4" r="9" fill="#9900cc"/>
<circle cx="1341.36" cy="459.91" r="9" fill="#9900cc"/>
<circle cx="1384.72" cy="435.54" r="9" fill="#9900cc"/>
<circle cx="1449.76" cy="404.73" r="9" fill="#9900cc"/>
<circle cx="1558.16" cy="348.74" r="9" fill="#9900cc"/>
<circle cx="1644.88" cy="297.84" r="9" fill="#9900cc"/>
<circle cx="1731.6" cy="251.76" r="9" fill="#9900cc"/>
<rect x="1281" y="23" width="468" height="468.8" fill="none" stroke="#000" stroke-width="3.4"/>
<text x="1306.3" y="59.9" font-size="28.6" text-anchor="start" fill="#000" font-weight="bold" >AM 1.5G</text>
<rect x="1309.8" y="82.7" width="16.4" height="16.4" fill="#0000ff"/>
<circle cx="1318" cy="133.1" r="8.9" fill="#9900cc"/>
<text x="1358" y="100.9" font-size="28.6" font-weight="bold" fill="#000">H<tspan font-size="19" dy="8.4">2</tspan></text>
<text x="1357.6" y="142.9" font-size="28.6" font-weight="bold" fill="#000">O<tspan font-size="19" dy="8.4">2</tspan></text>
<text x="1510.7" y="558.9" font-size="28.4" text-anchor="middle" fill="#000" font-weight="bold" >Reaction Time (h)</text>
<text transform="translate(1213.8,261.5) rotate(-90)" x="0" y="0" font-size="26" font-weight="bold" text-anchor="middle" fill="#000">Amount of gases evolved <tspan font-weight="normal">(</tspan>µmol<tspan font-weight="normal">)</tspan></text>
<text x="1199.1" y="31.8" font-size="44" text-anchor="start" fill="#000" font-weight="bold" >c</text>
</svg></body></html>
